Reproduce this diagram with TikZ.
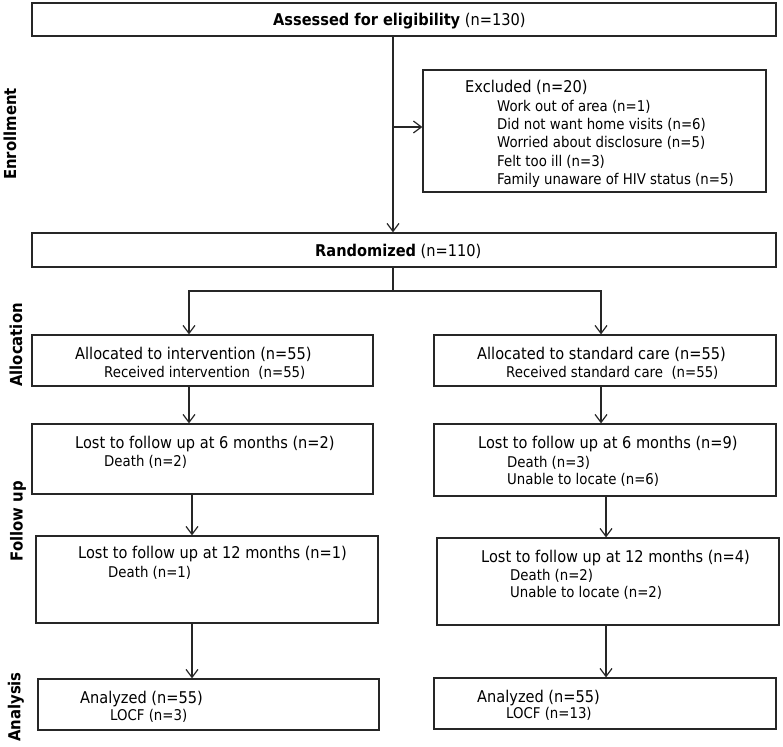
\documentclass[tikz,border=0pt]{standalone}
\usepackage{fontspec}
\setmainfont{DejaVu Sans Condensed}
\usetikzlibrary{arrows.meta}
\newcommand\bigsz{\fontsize{16.2}{19}\selectfont}
\newcommand\smsz{\fontsize{14.8}{17}\selectfont}
\newcommand\sidesz{\fontsize{16.5}{19}\selectfont}
\tikzset{
  box/.style={draw=black!85, line width=1.2pt, inner sep=0pt},
  txt/.style={anchor=base west, inner sep=0pt, font=\bigsz},
  sub/.style={anchor=base west, inner sep=0pt, font=\smsz},
  side/.style={rotate=90, inner sep=0pt, font=\sidesz\bfseries},
  arr/.style={draw=black!85, line width=1.2pt, -{Straight Barb[length=8pt,width=12pt,line width=1.2pt]}},
  ln/.style={draw=black!85, line width=1.2pt}
}
\begin{document}
\begin{tikzpicture}[x=1pt,y=-1pt]
\useasboundingbox (0,0) rectangle (783,746);
% boxes
\node[box, minimum width=744pt, minimum height=33pt] (assess) at (404,19.5) {};
\node[box, minimum width=343pt, minimum height=122pt] (excl) at (594.5,131) {};
\node[box, minimum width=744pt, minimum height=34pt] (rand) at (404,250) {};
\node[box, minimum width=341pt, minimum height=51pt] (allocL) at (202.5,360.5) {};
\node[box, minimum width=342pt, minimum height=51pt] (allocR) at (605,360.5) {};
\node[box, minimum width=341pt, minimum height=70pt] (fsixL) at (202.5,459) {};
\node[box, minimum width=342pt, minimum height=72pt] (fsixR) at (605,460) {};
\node[box, minimum width=342pt, minimum height=87pt] (ftwL) at (207,579.5) {};
\node[box, minimum width=342pt, minimum height=87pt] (ftwR) at (608,581.5) {};
\node[box, minimum width=341pt, minimum height=51pt] (anL) at (208.5,704.5) {};
\node[box, minimum width=342pt, minimum height=51pt] (anR) at (605,703.5) {};
% texts
\node[txt] (t1) at (273,26) {\textbf{Assessed for eligibility} (n=130)};
\node[txt] (t2) at (465,93) {Excluded (n=20)};
\node[sub] (t3) at (497,112) {Work out of area (n=1)};
\node[sub] (t4) at (497,130) {Did not want home visits (n=6)};
\node[sub] (t5) at (497,148) {Worried about disclosure (n=5)};
\node[sub] (t6) at (497,166) {Felt too ill (n=3)};
\node[sub] (t7) at (497,184) {Family unaware of HIV status (n=5)};
\node[txt] (t8) at (315,256) {\textbf{Randomized} (n=110)};
\node[txt] (t9) at (75,359) {Allocated to intervention (n=55)};
\node[sub] (t10) at (104,377) {Received intervention\ \ (n=55)};
\node[txt] (t11) at (477,359) {Allocated to standard care (n=55)};
\node[sub] (t12) at (506,377) {Received standard care\ \ (n=55)};
\node[txt] (t13) at (75,448) {Lost to follow up at 6 months (n=2)};
\node[sub] (t14) at (104,466) {Death (n=2)};
\node[txt] (t15) at (478,448) {Lost to follow up at 6 months (n=9)};
\node[sub] (t16) at (507,467) {Death (n=3)};
\node[sub] (t17) at (507,484) {Unable to locate (n=6)};
\node[txt] (t18) at (78,558) {Lost to follow up at 12 months (n=1)};
\node[sub] (t19) at (108,577) {Death (n=1)};
\node[txt] (t20) at (481,562) {Lost to follow up at 12 months (n=4)};
\node[sub] (t21) at (510,580) {Death (n=2)};
\node[sub] (t22) at (510,597) {Unable to locate (n=2)};
\node[txt] (t23) at (80,703) {Analyzed (n=55)};
\node[sub] (t24) at (110,720) {LOCF (n=3)};
\node[txt] (t25) at (477,702) {Analyzed (n=55)};
\node[sub] (t26) at (506,718) {LOCF (n=13)};
% side labels
\node[side] (s1) at (10,134) {Enrollment};
\node[side] (s2) at (16,345) {Allocation};
\node[side] (s3) at (18,521) {Follow up};
\node[side] (s4) at (16,707) {Analysis};
% connectors
\coordinate (trunk) at (393,0);
\coordinate (colA) at (189,0);
\coordinate (colB) at (192,0);
\coordinate (colC) at (601,0);
\coordinate (colD) at (606,0);
\coordinate (split) at (393,291);
\draw[arr] (trunk |- assess.south) -- (trunk |- rand.north);
\draw[arr] (trunk |- 0,127) -- (excl.west |- 0,127);
\draw[ln] (trunk |- rand.south) -- (split);
\draw[arr] (split) -| (colA |- allocL.north);
\draw[arr] (split) -| (colC |- allocR.north);
\draw[arr] (colA |- allocL.south) -- (colA |- fsixL.north);
\draw[arr] (colC |- allocR.south) -- (colC |- fsixR.north);
\draw[arr] (colB |- fsixL.south) -- (colB |- ftwL.north);
\draw[arr] (colD |- fsixR.south) -- (colD |- ftwR.north);
\draw[arr] (colB |- ftwL.south) -- (colB |- anL.north);
\draw[arr] (colD |- ftwR.south) -- (colD |- anR.north);
\end{tikzpicture}
\end{document}
